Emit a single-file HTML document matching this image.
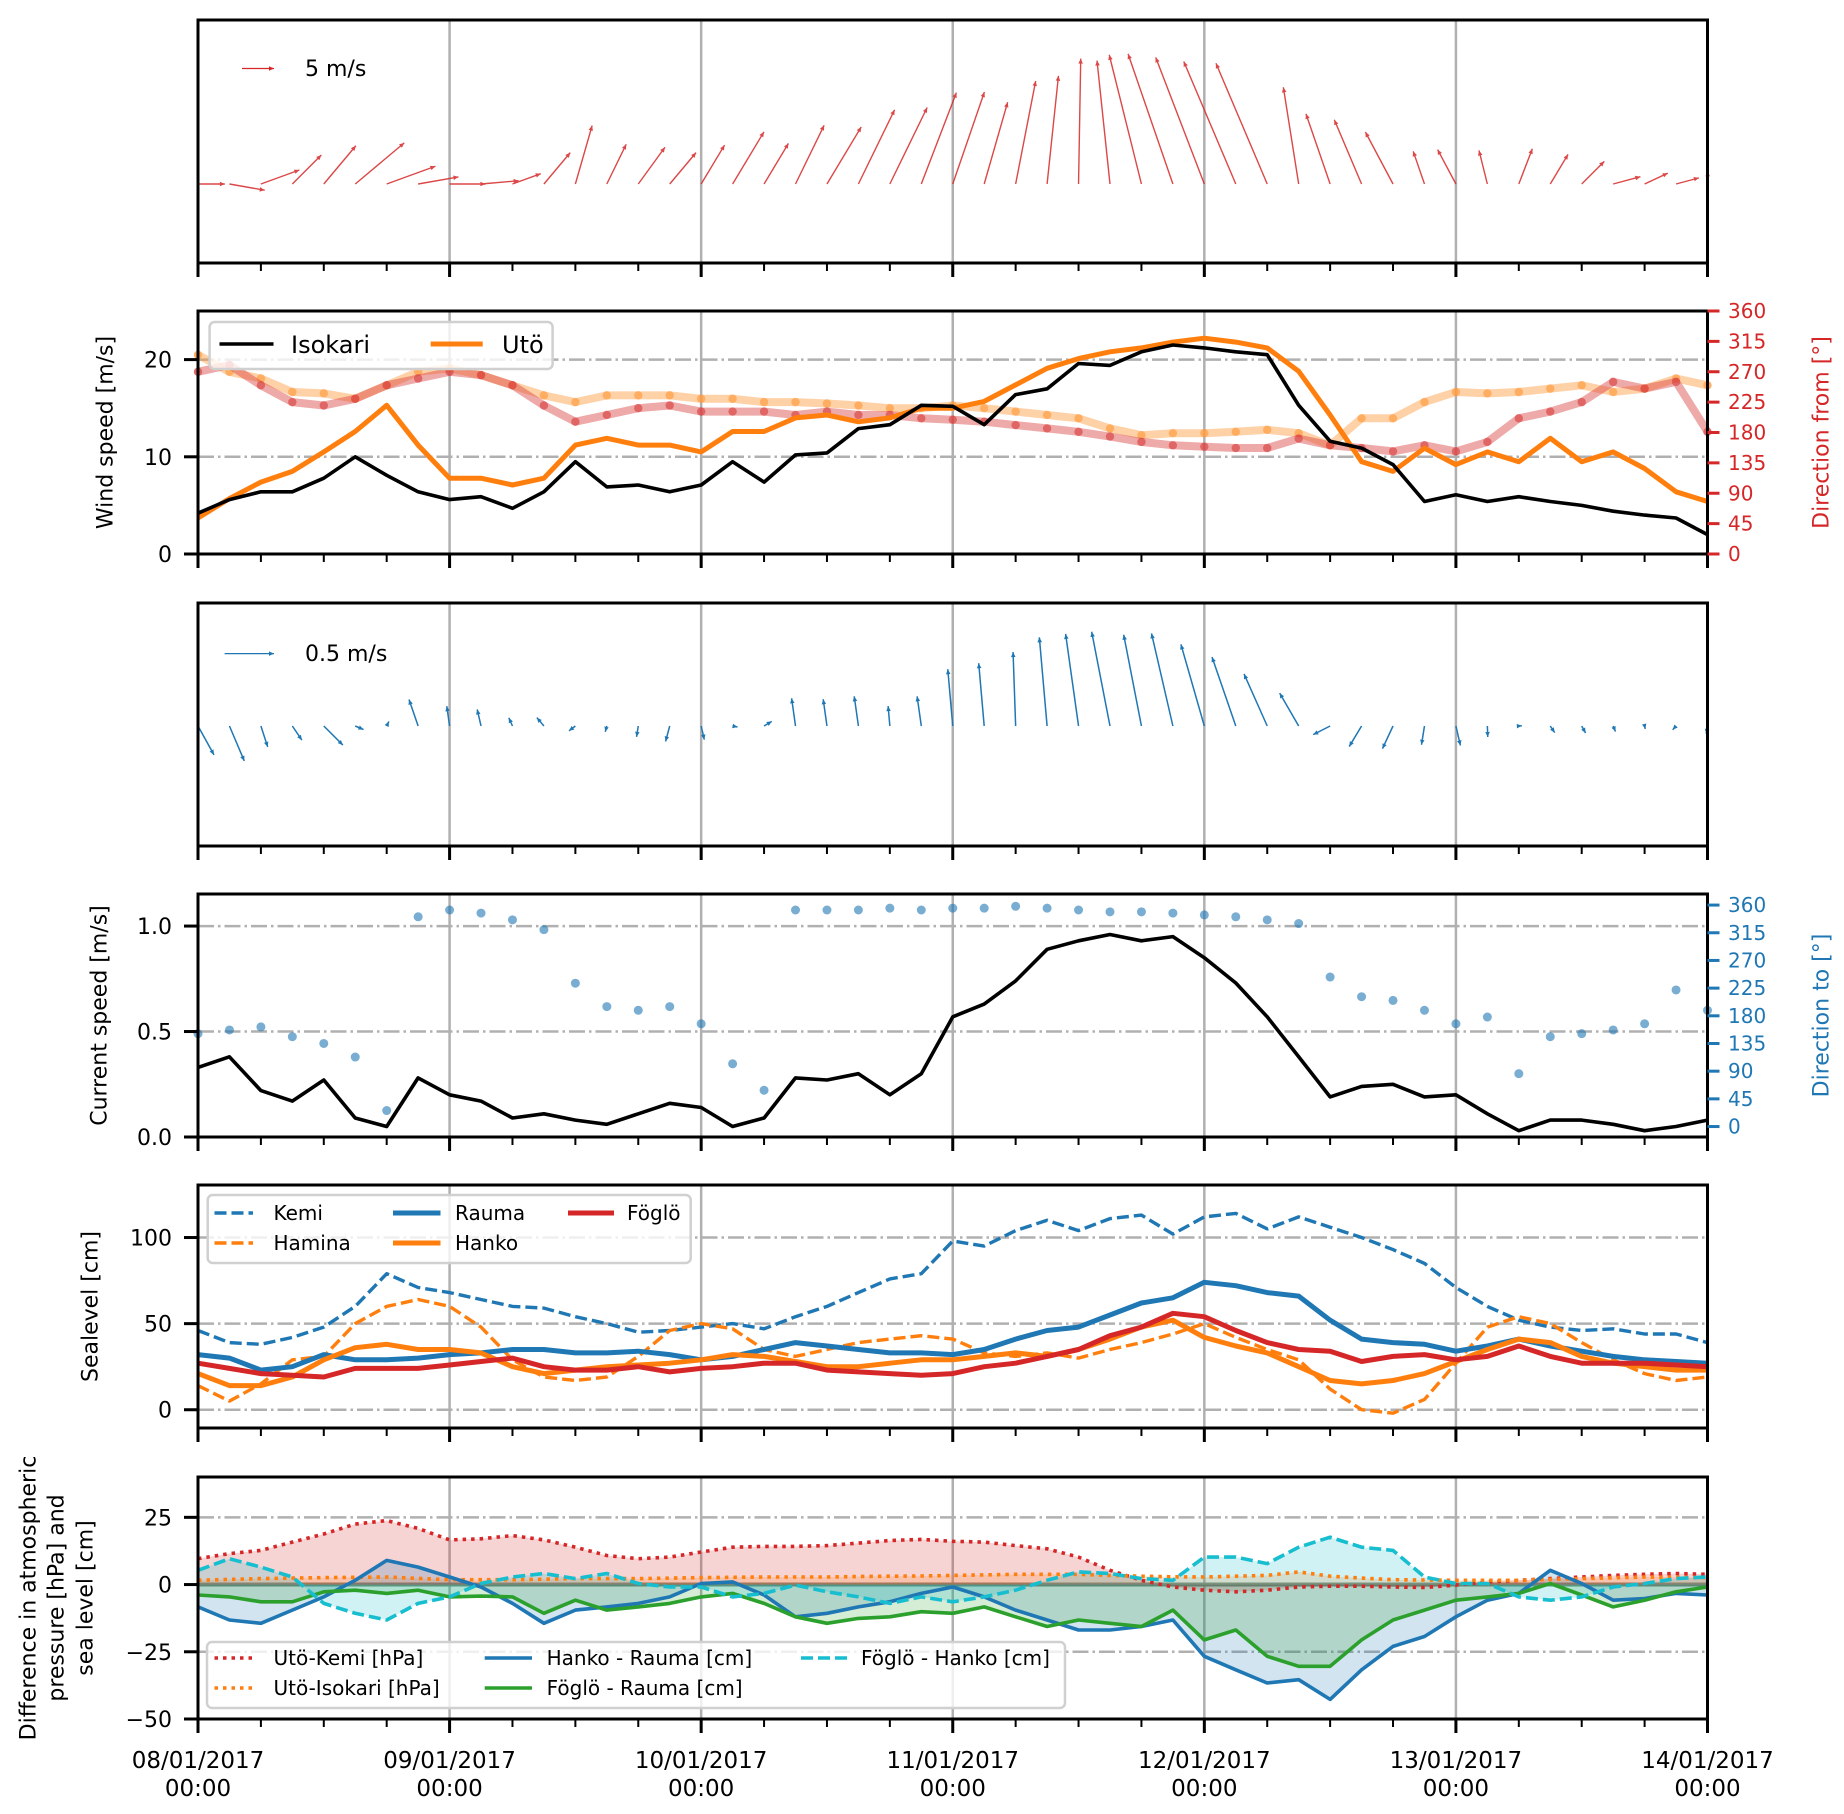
<!DOCTYPE html>
<html>
<head>
<meta charset="utf-8">
<style>
html,body{margin:0;padding:0;background:#fff;}
svg{display:block;font-family:"DejaVu Sans","Liberation Sans",sans-serif;}
</style>
</head>
<body>
<svg id="fig" xmlns="http://www.w3.org/2000/svg" width="1844" height="1814" viewBox="0 0 1844 1814">
<rect x="0" y="0" width="1844" height="1814" fill="#fff"/>
<g id="layer-grid"></g>
<g id="layer-data"></g>
<g id="layer-axes"></g>
<g id="layer-legend"></g>
</svg>
<script>
// ---------- DATA (hours since 08/01/2017 00:00) ----------
const hours = [0,3,6,9,12,15,18,21,24,27,30,33,36,39,42,45,48,51,54,57,60,63,66,69,72,75,78,81,84,87,90,93,96,99,102,105,108,111,114,117,120,123,126,129,132,135,138,141,144];
const dayLabels = ["08/01/2017","09/01/2017","10/01/2017","11/01/2017","12/01/2017","13/01/2017","14/01/2017"];
const isokariSpeed = [4.2,5.6,6.4,6.4,7.8,10.0,8.1,6.4,5.6,5.9,4.7,6.4,9.5,6.9,7.1,6.4,7.1,9.5,7.4,10.2,10.4,12.9,13.3,15.3,15.2,13.3,16.4,17.0,19.6,19.4,20.8,21.5,21.2,20.8,20.5,15.3,11.6,10.9,9.2,5.4,6.1,5.4,5.9,5.4,5.0,4.4,4.0,3.7,2.0];
const utoSpeed = [3.7,5.7,7.4,8.5,10.5,12.6,15.3,11.2,7.8,7.8,7.1,7.8,11.2,11.9,11.2,11.2,10.5,12.6,12.6,14.0,14.3,13.6,14.0,15.0,15.0,15.7,17.4,19.1,20.1,20.8,21.2,21.8,22.2,21.8,21.2,18.8,14.3,9.5,8.5,10.9,9.2,10.5,9.5,11.9,9.5,10.5,8.8,6.4,5.4];
const isokariDir = [270,280,250,225,220,230,250,260,270,265,250,220,196,206,216,220,211,211,211,206,211,206,206,201,199,196,191,186,181,174,166,161,159,157,157,171,161,157,152,161,152,166,201,211,225,255,245,255,181];
const utoDir = [295,270,260,240,238,230,250,270,275,265,250,235,225,235,235,235,230,230,225,225,223,220,216,216,220,216,211,206,201,186,176,179,179,181,184,179,161,201,201,225,240,238,240,245,250,240,245,260,250];
const windTicks = [0,10,20];
const dirTicks = [0,45,90,135,180,225,270,315,360];
const currentSpeed = [0.33,0.38,0.22,0.17,0.27,0.09,0.05,0.28,0.20,0.17,0.09,0.11,0.08,0.06,0.11,0.16,0.14,0.05,0.09,0.28,0.27,0.30,0.20,0.30,0.57,0.63,0.74,0.89,0.93,0.96,0.93,0.95,0.85,0.73,0.57,0.38,0.19,0.24,0.25,0.19,0.20,0.11,0.03,0.08,0.08,0.06,0.03,0.05,0.08];
const currentDir = [151,157,162,146,135,113,26,341,352,347,336,320,233,195,189,195,167,102,59,352,352,352,355,352,355,355,358,355,352,349,349,347,344,341,336,330,243,211,205,189,167,178,86,146,151,157,167,222,189];
const currentTicks = [0.0,0.5,1.0];
const currentTickLabels = ["0.0","0.5","1.0"];
const kemi = [46,39,38,42,48,60,79,71,68,64,60,59,54,50,45,46,48,50,47,54,60,68,76,79,98,95,104,110,104,111,113,102,112,114,105,112,106,100,93,85,71,60,52,48,46,47,44,44,39];
const hamina = [14,5,15,29,31,50,60,64,60,48,29,19,17,19,31,46,50,47,35,31,35,39,41,43,41,33,31,33,30,35,39,44,50,42,35,29,12,0,-2,6,27,48,54,50,39,29,21,17,19];
const rauma = [32,30,23,25,32,29,29,30,32,33,35,35,33,33,34,32,29,31,35,39,37,35,33,33,32,35,41,46,48,55,62,65,74,72,68,66,52,41,39,38,34,37,41,37,34,31,29,28,27];
const hanko = [21,14,14,19,29,36,38,35,35,33,25,21,23,25,26,27,29,32,31,28,25,25,27,29,29,31,33,31,35,41,48,52,42,37,33,25,17,15,17,21,28,35,41,39,31,27,25,23,23];
const foglo = [27,24,21,20,19,24,24,24,26,28,30,25,23,23,25,22,24,25,27,27,23,22,21,20,21,25,27,31,35,43,48,56,54,46,39,35,34,28,31,32,29,31,37,31,27,27,27,26,25];
const seaTicks = [0,50,100];
const utoKemi = [9.6,11.5,12.7,15.8,18.8,22.5,23.8,20.9,16.6,17.0,18.2,16.6,13.9,10.8,9.6,10.2,12.1,13.9,14.2,14.2,14.5,15.4,16.4,16.8,16.1,15.8,14.5,13.3,10.2,5.3,1.6,-0.9,-2.1,-2.7,-2.1,-0.9,-0.6,-0.6,-0.9,-1.1,-0.2,1.0,1.6,2.2,2.8,3.4,3.8,4.1,3.8];
const utoIsokari = [1.6,1.9,2.2,2.4,2.6,2.7,2.8,2.3,1.8,1.8,1.8,2.0,2.2,2.2,2.2,2.4,2.6,2.7,2.8,2.8,2.8,3.0,3.1,3.2,3.4,3.6,3.8,3.8,3.8,3.4,3.1,2.9,2.8,3.1,3.4,4.7,3.1,2.4,1.8,1.7,1.6,1.6,1.6,1.9,2.2,2.5,2.8,2.7,2.6];
const hankoRauma = [-8.3,-13.2,-14.4,-9.5,-4.6,1.6,9.0,6.5,2.8,-0.9,-7.0,-14.4,-9.5,-8.3,-7.0,-4.6,0.4,1.0,-3.9,-12.0,-10.7,-8.3,-6.4,-3.3,-0.9,-4.6,-9.5,-13.2,-16.9,-16.9,-15.6,-13.2,-26.7,-31.7,-36.6,-35.4,-42.7,-31.7,-23.0,-19.3,-12.0,-5.8,-3.3,5.3,0.4,-5.8,-5.2,-3.3,-3.9];
const fogloRauma = [-3.9,-4.6,-6.4,-6.4,-2.7,-2.1,-3.3,-2.1,-4.6,-4.3,-4.6,-10.7,-5.8,-9.5,-8.3,-7.0,-4.6,-3.3,-7.0,-12.0,-14.4,-12.6,-12.0,-10.1,-10.7,-8.3,-12.0,-15.6,-13.2,-14.4,-15.6,-9.5,-20.6,-16.9,-26.7,-30.4,-30.4,-20.6,-13.2,-9.5,-5.8,-4.6,-3.3,0.4,-3.9,-8.3,-5.8,-2.7,-0.9];
const fogloHanko = [5.3,9.6,6.5,2.8,-7.0,-10.7,-13.2,-7.0,-4.6,0.4,2.8,4.1,2.2,4.1,0.4,-0.9,-0.9,-4.6,-3.3,-0.2,-2.7,-4.6,-7.0,-4.6,-6.4,-4.6,-2.1,1.6,4.7,4.1,2.2,1.6,10.2,10.2,7.8,13.9,17.6,13.9,12.7,2.8,0.4,0.4,-4.6,-5.8,-4.6,-0.9,0.4,2.2,2.8];
const diffTicks = [-50,-25,0,25];

// ---------- LAYOUT ----------
const X0 = 198, X1 = 1707.5;
const panels = [
  {t:20,b:263},{t:311,b:554},{t:603,b:846},{t:894,b:1137},{t:1185,b:1428},{t:1477,b:1719}
];
const C = {blue:'#1f77b4',orange:'#ff7f0e',red:'#d62728',green:'#2ca02c',cyan:'#17becf',grid:'#b0b0b0'};
const NS = 'http://www.w3.org/2000/svg';
const gGrid = document.getElementById('layer-grid');
const gData = document.getElementById('layer-data');
const gAxes = document.getElementById('layer-axes');
const gLeg = document.getElementById('layer-legend');

function xs(h){ return X0 + h*(X1-X0)/144; }
function yScale(p, lo, hi){ return v => p.b - (v-lo)/(hi-lo)*(p.b-p.t); }

function mk(parent, tag, attrs, name, inter){
  const el = document.createElementNS(NS, tag);
  for (const k in attrs) el.setAttribute(k, attrs[k]);
  
  
  parent.appendChild(el);
  return el;
}
function txt(parent, x, y, s, opts, name){
  const el = mk(parent, 'text', Object.assign({x:x, y:y, 'font-size':22, fill:'#000'}, opts||{}), name, false);
  el.textContent = s;
  return el;
}
function pathFrom(xv, yv){
  let d = '';
  for (let i=0;i<xv.length;i++) d += (i?'L':'M') + xv[i].toFixed(1) + ',' + yv[i].toFixed(1);
  return d;
}
function line(parent, arrHours, vals, ys, style, name){
  const d = pathFrom(arrHours.map(xs), vals.map(ys));
  return mk(parent, 'path', Object.assign({d:d, fill:'none', 'stroke-linejoin':'round'}, style), name, false);
}
function fillZero(parent, arrHours, vals, ys, color, name){
  let d = 'M' + xs(arrHours[0]).toFixed(1) + ',' + ys(0).toFixed(1);
  for (let i=0;i<vals.length;i++) d += 'L' + xs(arrHours[i]).toFixed(1) + ',' + ys(vals[i]).toFixed(1);
  d += 'L' + xs(arrHours[arrHours.length-1]).toFixed(1) + ',' + ys(0).toFixed(1) + 'Z';
  return mk(parent, 'path', {d:d, fill:color, 'fill-opacity':0.2, stroke:'none'}, name, false);
}
function hgrid(p, y, name){
  mk(gGrid, 'line', {x1:X0, x2:X1, y1:y, y2:y, stroke:C.grid, 'stroke-width':2.5, 'stroke-dasharray':'16,4,2.5,4'}, name, false);
}

// ---------- FRAMES, DAY GRID, X TICKS ----------
panels.forEach((p, pi) => {
  for (let d=1; d<6; d++){
    mk(gGrid, 'line', {x1:xs(d*24), x2:xs(d*24), y1:p.t, y2:p.b, stroke:C.grid, 'stroke-width':2.5}, 'day-gridline', false);
  }
  mk(gAxes, 'rect', {x:X0, y:p.t, width:X1-X0, height:p.b-p.t, fill:'none', stroke:'#000', 'stroke-width':3}, 'panel-' + (pi+1) + '-frame', false);
  for (let h=0; h<=144; h+=6){
    const major = h % 24 === 0;
    mk(gAxes, 'line', {x1:xs(h), x2:xs(h), y1:p.b, y2:p.b + (major?14:8), stroke:'#000', 'stroke-width': major?3:2}, major?'x-major-tick':'x-minor-tick', false);
  }
});
dayLabels.forEach((lab, i) => {
  txt(gAxes, xs(i*24), 1768, lab, {'text-anchor':'middle','font-size':23}, 'x-tick-label-date');
  txt(gAxes, xs(i*24), 1796, '00:00', {'text-anchor':'middle','font-size':23}, 'x-tick-label-time');
});

function leftTicks(p, ys, vals, labels, name){
  vals.forEach((v, i) => {
    const y = ys(v);
    mk(gAxes, 'line', {x1:X0-14, x2:X0, y1:y, y2:y, stroke:'#000', 'stroke-width':3}, name + '-tick', false);
    txt(gAxes, 172, y+8, labels[i], {'text-anchor':'end'}, name + '-label');
  });
}
function rightTicks(p, ys, vals, color, name){
  vals.forEach(v => {
    const y = ys(v);
    mk(gAxes, 'line', {x1:X1, x2:X1+12, y1:y, y2:y, stroke:color, 'stroke-width':3}, name + '-tick', false);
    txt(gAxes, 1728, y+7, String(v), {'font-size':20, fill:color}, name + '-label');
  });
}
function vlabel(x, y, s, color, name, size){
  txt(gAxes, x, y, s, {'text-anchor':'middle', 'dominant-baseline':'central', transform:'rotate(-90 ' + x + ' ' + y + ')', fill:color||'#000', 'font-size':size||22}, name);
}
function arrow(parent, x1, y1, x2, y2, color, w, hs, name){
  const g = mk(parent, 'g', {}, name, false);
  mk(g, 'line', {x1:x1, y1:y1, x2:x2, y2:y2, stroke:color, 'stroke-width':w}, 'arrow-shaft', false);
  const dx = x2-x1, dy = y2-y1, L = Math.hypot(dx,dy) || 1;
  const ux = dx/L, uy = dy/L;
  const bx = x2 - ux*hs, by = y2 - uy*hs;
  const pts = x2.toFixed(1)+','+y2.toFixed(1)+' '+(bx - uy*hs*0.45).toFixed(1)+','+(by + ux*hs*0.45).toFixed(1)+' '+(bx + uy*hs*0.45).toFixed(1)+','+(by - ux*hs*0.45).toFixed(1);
  mk(g, 'polygon', {points:pts, fill:color}, 'arrow-head', false);
}

// ---------- PANEL 1: WIND QUIVER ----------
(function(){
  const base = 184, k = 6.4;
  const g = mk(gData, 'g', {opacity:0.85}, 'wind-quiver', false);
  hours.forEach((h, i) => {
    const s = isokariSpeed[i], d = isokariDir[i]*Math.PI/180;
    const u = -s*Math.sin(d), v = -s*Math.cos(d);
    arrow(g, xs(h), base, xs(h)+u*k, base - v*k, C.red, 1.4, 5, 'wind-arrow');
  });
  arrow(gLeg, 242, 68.5, 274, 68.5, C.red, 1.2, 5, 'wind-key-arrow');
  txt(gLeg, 305, 76, '5 m/s', {}, 'wind-key-label');
})();

// ---------- PANEL 2: WIND SPEED ----------
(function(){
  const p = panels[1];
  const ys = yScale(p, 0, 25), yd = yScale(p, 0, 360);
  windTicks.forEach(v => { if (v>0) hgrid(p, ys(v), 'wind-gridline'); });
  [[utoDir, '#ff9a3c', 'uto-direction'], [isokariDir, '#d94040', 'isokari-direction']].forEach(([arr, col, nm]) => {
    line(gData, hours, arr, yd, {stroke:col, 'stroke-width':8, 'stroke-opacity':0.45, 'stroke-linecap':'round'}, nm + '-band');
    hours.forEach((h, i) => {
      mk(gData, 'circle', {cx:xs(h), cy:yd(arr[i]), r:4.2, fill:col, 'fill-opacity':0.65}, nm + '-point', false);
    });
  });
  line(gData, hours, utoSpeed, ys, {stroke:C.orange, 'stroke-width':5}, 'uto-speed-line');
  line(gData, hours, isokariSpeed, ys, {stroke:'#000', 'stroke-width':3.6}, 'isokari-speed-line');
  leftTicks(p, ys, windTicks, windTicks.map(String), 'wind-y');
  rightTicks(p, yd, dirTicks, C.red, 'wind-dir-y');
  vlabel(106, (p.t+p.b)/2, 'Wind speed [m/s]', '#000', 'wind-y-axis-title');
  vlabel(1822, (p.t+p.b)/2, 'Direction from [°]', C.red, 'wind-dir-axis-title');
  const lg = mk(gLeg, 'g', {}, 'wind-legend', false);
  mk(lg, 'rect', {x:209.6, y:322, width:343, height:47, rx:5, fill:'#fff', 'fill-opacity':0.8, stroke:'#d0d0d0', 'stroke-width':2.5}, 'legend-box', false);
  mk(lg, 'line', {x1:219.5, x2:273.5, y1:344, y2:344, stroke:'#000', 'stroke-width':3.6}, 'legend-isokari-swatch', false);
  txt(lg, 291, 353, 'Isokari', {'font-size':24}, 'legend-isokari-label');
  mk(lg, 'line', {x1:430.7, x2:482.7, y1:344, y2:344, stroke:C.orange, 'stroke-width':5}, 'legend-uto-swatch', false);
  txt(lg, 502, 353, 'Utö', {'font-size':24}, 'legend-uto-label');
})();

// ---------- PANEL 3: CURRENT QUIVER ----------
(function(){
  const base = 726, k = 100;
  const g = mk(gData, 'g', {}, 'current-quiver', false);
  hours.forEach((h, i) => {
    const s = currentSpeed[i], d = currentDir[i]*Math.PI/180;
    const u = s*Math.sin(d), v = s*Math.cos(d);
    arrow(g, xs(h), base, xs(h)+u*k, base - v*k, C.blue, 1.5, 5, 'current-arrow');
  });
  arrow(gLeg, 224.6, 653.6, 274, 653.6, C.blue, 1.3, 5, 'current-key-arrow');
  txt(gLeg, 305, 661, '0.5 m/s', {}, 'current-key-label');
})();

// ---------- PANEL 4: CURRENT SPEED ----------
(function(){
  const p = panels[3];
  const ys = yScale(p, 0, 1.152), yd = yScale(p, -17, 378);
  [0.5, 1.0].forEach(v => hgrid(p, ys(v), 'current-gridline'));
  hours.forEach((h, i) => {
    mk(gData, 'circle', {cx:xs(h), cy:yd(currentDir[i]), r:4.5, fill:C.blue, 'fill-opacity':0.6}, 'current-direction-point', false);
  });
  line(gData, hours, currentSpeed, ys, {stroke:'#000', 'stroke-width':3.6}, 'current-speed-line');
  leftTicks(p, ys, currentTicks, currentTickLabels, 'current-y');
  rightTicks(p, yd, dirTicks, C.blue, 'current-dir-y');
  vlabel(100, (p.t+p.b)/2, 'Current speed [m/s]', '#000', 'current-y-axis-title');
  vlabel(1822, (p.t+p.b)/2, 'Direction to [°]', C.blue, 'current-dir-axis-title');
})();

// ---------- PANEL 5: SEA LEVEL ----------
(function(){
  const p = panels[4];
  const ys = yScale(p, -10.6, 130.5);
  seaTicks.forEach(v => hgrid(p, ys(v), 'sealevel-gridline'));
  line(gData, hours, kemi, ys, {stroke:C.blue, 'stroke-width':3.4, 'stroke-dasharray':'12,5'}, 'kemi-line');
  line(gData, hours, hamina, ys, {stroke:C.orange, 'stroke-width':3.4, 'stroke-dasharray':'12,5'}, 'hamina-line');
  line(gData, hours, rauma, ys, {stroke:C.blue, 'stroke-width':5}, 'rauma-line');
  line(gData, hours, hanko, ys, {stroke:C.orange, 'stroke-width':5}, 'hanko-line');
  line(gData, hours, foglo, ys, {stroke:C.red, 'stroke-width':5}, 'foglo-line');
  leftTicks(p, ys, seaTicks, seaTicks.map(String), 'sealevel-y');
  vlabel(91, (p.t+p.b)/2, 'Sealevel [cm]', '#000', 'sealevel-y-axis-title');
  const lg = mk(gLeg, 'g', {}, 'sealevel-legend', false);
  mk(lg, 'rect', {x:207.7, y:1195, width:483, height:68, rx:5, fill:'#fff', 'fill-opacity':0.8, stroke:'#d0d0d0', 'stroke-width':2.5}, 'legend-box', false);
  const items = [
    [214.5,253,273.5,1213,'Kemi',C.blue,3.4,'12,5'],
    [214.5,253,273.5,1243,'Hamina',C.orange,3.4,'12,5'],
    [393,440.5,455,1213,'Rauma',C.blue,5,''],
    [393,440.5,455,1243,'Hanko',C.orange,5,''],
    [568,614,627,1213,'Föglö',C.red,5,'']
  ];
  items.forEach(it => {
    const st = {x1:it[0], x2:it[1], y1:it[3], y2:it[3], stroke:it[5], 'stroke-width':it[6]};
    if (it[7]) st['stroke-dasharray'] = it[7];
    mk(lg, 'line', st, 'legend-' + it[4].toLowerCase() + '-swatch', false);
    txt(lg, it[2], it[3]+7, it[4], {'font-size':20}, 'legend-' + it[4].toLowerCase() + '-label');
  });
})();

// ---------- PANEL 6: DIFFERENCES ----------
(function(){
  const p = panels[5];
  const ys = yScale(p, -50, 40);
  [25, -25].forEach(v => hgrid(p, ys(v), 'difference-gridline'));
  mk(gGrid, 'line', {x1:X0, x2:X1, y1:ys(0), y2:ys(0), stroke:'#7a8a80', 'stroke-width':4}, 'zero-line', false);
  fillZero(gData, hours, utoKemi, ys, C.red, 'uto-kemi-fill');
  fillZero(gData, hours, utoIsokari, ys, C.orange, 'uto-isokari-fill');
  fillZero(gData, hours, hankoRauma, ys, C.blue, 'hanko-rauma-fill');
  fillZero(gData, hours, fogloRauma, ys, C.green, 'foglo-rauma-fill');
  fillZero(gData, hours, fogloHanko, ys, C.cyan, 'foglo-hanko-fill');
  line(gData, hours, utoKemi, ys, {stroke:C.red, 'stroke-width':3.6, 'stroke-dasharray':'3.5,5'}, 'uto-kemi-line');
  line(gData, hours, utoIsokari, ys, {stroke:C.orange, 'stroke-width':3.6, 'stroke-dasharray':'3.5,5'}, 'uto-isokari-line');
  line(gData, hours, hankoRauma, ys, {stroke:C.blue, 'stroke-width':3.6}, 'hanko-rauma-line');
  line(gData, hours, fogloRauma, ys, {stroke:C.green, 'stroke-width':3.6}, 'foglo-rauma-line');
  line(gData, hours, fogloHanko, ys, {stroke:C.cyan, 'stroke-width':3.6, 'stroke-dasharray':'12,5'}, 'foglo-hanko-line');
  leftTicks(p, ys, diffTicks, diffTicks.map(v => v<0 ? '\u2212' + Math.abs(v) : String(v)), 'difference-y');
  const cy = (p.t+p.b)/2;
  vlabel(29, cy, 'Difference in atmospheric', '#000', 'difference-y-axis-title-line1');
  vlabel(57, cy, 'pressure [hPa] and', '#000', 'difference-y-axis-title-line2');
  vlabel(86, cy, 'sea level [cm]', '#000', 'difference-y-axis-title-line3');
  const lg = mk(gLeg, 'g', {}, 'difference-legend', false);
  mk(lg, 'rect', {x:207, y:1642, width:858, height:66, rx:5, fill:'#fff', 'fill-opacity':0.8, stroke:'#d0d0d0', 'stroke-width':2.5}, 'legend-box', false);
  const items = [
    [214.5,254,273.5,1658,'Utö-Kemi [hPa]',C.red,3.6,'3.5,5','uto-kemi'],
    [214.5,254,273.5,1688,'Utö-Isokari [hPa]',C.orange,3.6,'3.5,5','uto-isokari'],
    [484.7,532,546.6,1658,'Hanko - Rauma [cm]',C.blue,3.6,'','hanko-rauma'],
    [484.7,532,546.6,1688,'Föglö - Rauma [cm]',C.green,3.6,'','foglo-rauma'],
    [801,848,861,1658,'Föglö - Hanko [cm]',C.cyan,3.6,'12,5','foglo-hanko']
  ];
  items.forEach(it => {
    const st = {x1:it[0], x2:it[1], y1:it[3], y2:it[3], stroke:it[5], 'stroke-width':it[6]};
    if (it[7]) st['stroke-dasharray'] = it[7];
    mk(lg, 'line', st, 'legend-' + it[8] + '-swatch', false);
    txt(lg, it[2], it[3]+7, it[4], {'font-size':20}, 'legend-' + it[8] + '-label');
  });
})();
</script>
</body>
</html>
